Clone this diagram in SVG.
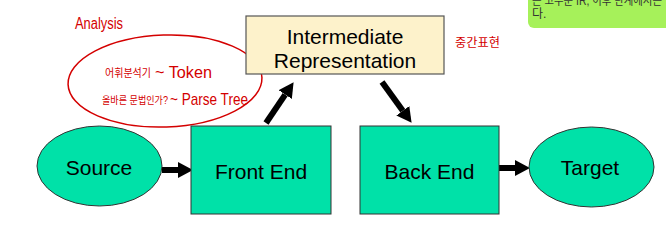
<svg xmlns="http://www.w3.org/2000/svg" width="666" height="234" viewBox="0 0 666 234">
<style>
.node{fill:#00e1a8;stroke:#333;stroke-width:1}
.ir{fill:#fdf2cb;stroke:#555;stroke-width:1.2}
.lbl{font-family:"Liberation Sans","DejaVu Sans",sans-serif;font-size:21px;fill:#000;text-anchor:middle}
.conn{stroke:#000;stroke-width:6;fill:none}
.hand{font-family:"Liberation Sans","Noto Sans CJK KR",sans-serif;fill:#d40000}
.note{font-family:"Liberation Sans","Noto Sans CJK KR",sans-serif;font-size:12px;fill:#333}
</style>
<defs>
<marker id="ah" markerUnits="userSpaceOnUse" markerWidth="16" markerHeight="18" refX="0" refY="8" orient="auto">
<path d="M0,0 L15,8 L0,16 z" fill="#000"/>
</marker>
</defs>
<rect width="666" height="234" fill="#fff"/>

<g id="note-bubble">
<rect x="528" y="-20" width="150" height="48" rx="6" fill="#a6f15a"/>
<text class="note" x="532" y="5" textLength="130" lengthAdjust="spacingAndGlyphs">는 고수준 IR, 이후 단계에서는</text>
<text class="note" x="532" y="18">다.</text>
</g>

<g id="annotations">
<ellipse cx="165" cy="81" rx="97" ry="46" fill="none" stroke="#d40000" stroke-width="1.5" transform="rotate(-2 165 81)"/>
<text class="hand" x="75" y="29" font-size="16" textLength="48" lengthAdjust="spacingAndGlyphs">Analysis</text>
<text class="hand" x="105" y="77" font-size="11" textLength="46" lengthAdjust="spacingAndGlyphs">어휘분석기</text>
<text class="hand" x="155" y="78" font-size="16" textLength="57" lengthAdjust="spacingAndGlyphs">~ Token</text>
<text class="hand" x="102" y="104" font-size="10" textLength="66" lengthAdjust="spacingAndGlyphs">올바른 문법인가?</text>
<text class="hand" x="170" y="105" font-size="17" textLength="78" lengthAdjust="spacingAndGlyphs">~ Parse Tree</text>
<text class="hand" x="455" y="47" font-size="12" textLength="45" lengthAdjust="spacingAndGlyphs">중간표현</text>
</g>

<g id="connectors">
<line class="conn" x1="162" y1="170" x2="178" y2="170" marker-end="url(#ah)"/>
<line class="conn" x1="266" y1="123" x2="285.2" y2="94.6" marker-end="url(#ah)"/>
<line class="conn" x1="382" y1="82" x2="402.8" y2="110.7" marker-end="url(#ah)"/>
<line class="conn" x1="499" y1="168" x2="515" y2="168" marker-end="url(#ah)"/>
</g>

<g id="source">
<ellipse class="node" cx="99.5" cy="166" rx="62.5" ry="40"/>
<text class="lbl" x="99" y="175">Source</text>
</g>

<g id="front-end">
<rect class="node" x="191" y="126" width="140" height="88"/>
<text class="lbl" x="261" y="179">Front End</text>
</g>

<g id="ir">
<rect class="ir" x="246" y="16" width="198" height="58"/>
<text class="lbl" x="345" y="44">Intermediate</text>
<text class="lbl" x="345" y="68">Representation</text>
</g>

<g id="back-end">
<rect class="node" x="360" y="126" width="139" height="88"/>
<text class="lbl" x="429.5" y="179">Back End</text>
</g>

<g id="target">
<ellipse class="node" cx="591.5" cy="167" rx="62.5" ry="40"/>
<text class="lbl" x="590" y="175">Target</text>
</g>
</svg>
